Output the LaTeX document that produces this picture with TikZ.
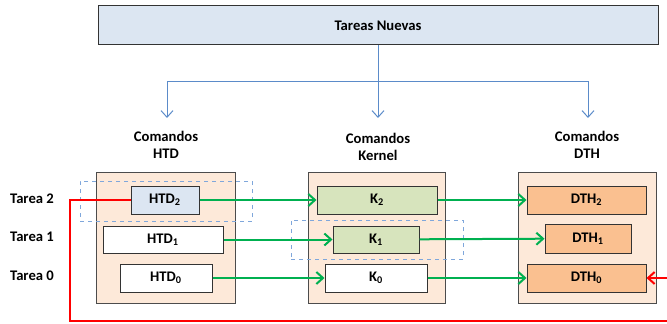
\documentclass[tikz,border=0pt]{standalone}
\usepackage{fontspec}
\setmainfont{Carlito}
\usetikzlibrary{arrows.meta}
\definecolor{nuevafill}{HTML}{DCE6F2}
\definecolor{colfill}{HTML}{FDE9D9}
\definecolor{kfill}{HTML}{D7E4BD}
\definecolor{dthfill}{HTML}{FAC090}
\definecolor{lineblue}{HTML}{5B8BC9}
\definecolor{dashblue}{HTML}{7FA7DB}
\definecolor{flowgreen}{HTML}{00B050}
\tikzset{
  every node/.style={font=\fontsize{11}{12.5}\selectfont\bfseries},
  column/.style={draw=black!70, fill=colfill, line width=0.75pt, minimum height=97.5pt},
  cmd/.style={draw=black!80, line width=0.75pt, minimum height=21pt, inner sep=0pt},
  group/.style={draw=dashblue, dashed, line width=0.75pt, minimum height=30pt},
  feed/.style={-{Straight Barb[length=5pt,width=9pt]}, lineblue, line width=0.75pt},
  flow/.style={-{Straight Barb[length=5pt,width=9pt]}, flowgreen, line width=1.5pt},
  back/.style={-{Straight Barb[length=5pt,width=9pt]}, red, line width=1.5pt},
}
\begin{document}
\begin{tikzpicture}[x=0.75pt, y=-0.75pt]
      \useasboundingbox (0,0) rectangle (667,324);
      % columns and groups
      \draw
        (165.5,238) node[column, minimum width=104.25pt] (colhtd){}
        (376.5,238) node[column, minimum width=102.75pt] (colk){}
        (587,238) node[column, minimum width=103.5pt] (coldth){}
        (166,201) node[group, minimum width=129pt] (grp2){}
        (377,239.5) node[group, minimum width=129pt, minimum height=29.25pt] (grp1){};
      % boxes
      \draw
        (378,25.5) node[cmd, fill=nuevafill, minimum width=420pt, minimum height=29.25pt] (nuevas){Tareas Nuevas}
        (165,200) node[cmd, fill=nuevafill, minimum width=51pt] (htd2){HTD\textsubscript{2}}
        (163,239.5) node[cmd, fill=white, minimum width=90pt, minimum height=20.25pt] (htd1){HTD\textsubscript{1}}
        (166,278) node[cmd, fill=white, minimum width=69pt] (htd0){HTD\textsubscript{0}}
        (377,200) node[cmd, fill=kfill, minimum width=90pt] (k2){K\textsubscript{2}}
        (376,239.5) node[cmd, fill=kfill, minimum width=64.5pt, minimum height=20.25pt] (k1){K\textsubscript{1}}
        (376,278) node[cmd, fill=white, minimum width=76.5pt] (k0){K\textsubscript{0}}
        (586.5,200) node[cmd, fill=dthfill, minimum width=89.25pt] (dth2){DTH\textsubscript{2}}
        (588,238.5) node[cmd, fill=dthfill, minimum width=64.5pt, minimum height=21.75pt] (dth1){DTH\textsubscript{1}}
        (586.5,278) node[cmd, fill=dthfill, minimum width=89.25pt] (dth0){DTH\textsubscript{0}};
      % labels
      \draw
        (166,145) node[align=center] (lblhtd){Comandos\\HTD}
        (378,147) node[align=center] (lblk){Comandos\\Kernel}
        (587,145) node[align=center] (lbldth){Comandos\\DTH}
        (32,199) node (t2){Tarea 2}
        (32,237) node (t1){Tarea 1}
        (32,276) node (t0){Tarea 0};
      \coordinate (split) at (378,82);
      \coordinate (inhtd) at (167,118);
      \coordinate (ink) at (378,118);
      \coordinate (indth) at (588,118);
      \coordinate (retl) at (70,321);
      \coordinate (retr) at (672,278);
      \begin{scope}
        \draw[lineblue, line width=0.75pt] (nuevas.south) -- (split);
        \draw[feed] (split) -| (inhtd);
        \draw[feed] (split) -- (ink);
        \draw[feed] (split) -| (indth);
        \draw[flow] (htd2) to (k2);
        \draw[flow] (htd1) to (k1);
        \draw[flow] (htd0) to (k0);
        \draw[flow] (k2) to (dth2);
        \draw[flow] (k1) to (dth1);
        \draw[flow] (k0) to (dth0);
        \draw[back] (htd2.west) -| (retl) -| (retr) -- (dth0.east);
      \end{scope}
    \end{tikzpicture}
\end{document}
